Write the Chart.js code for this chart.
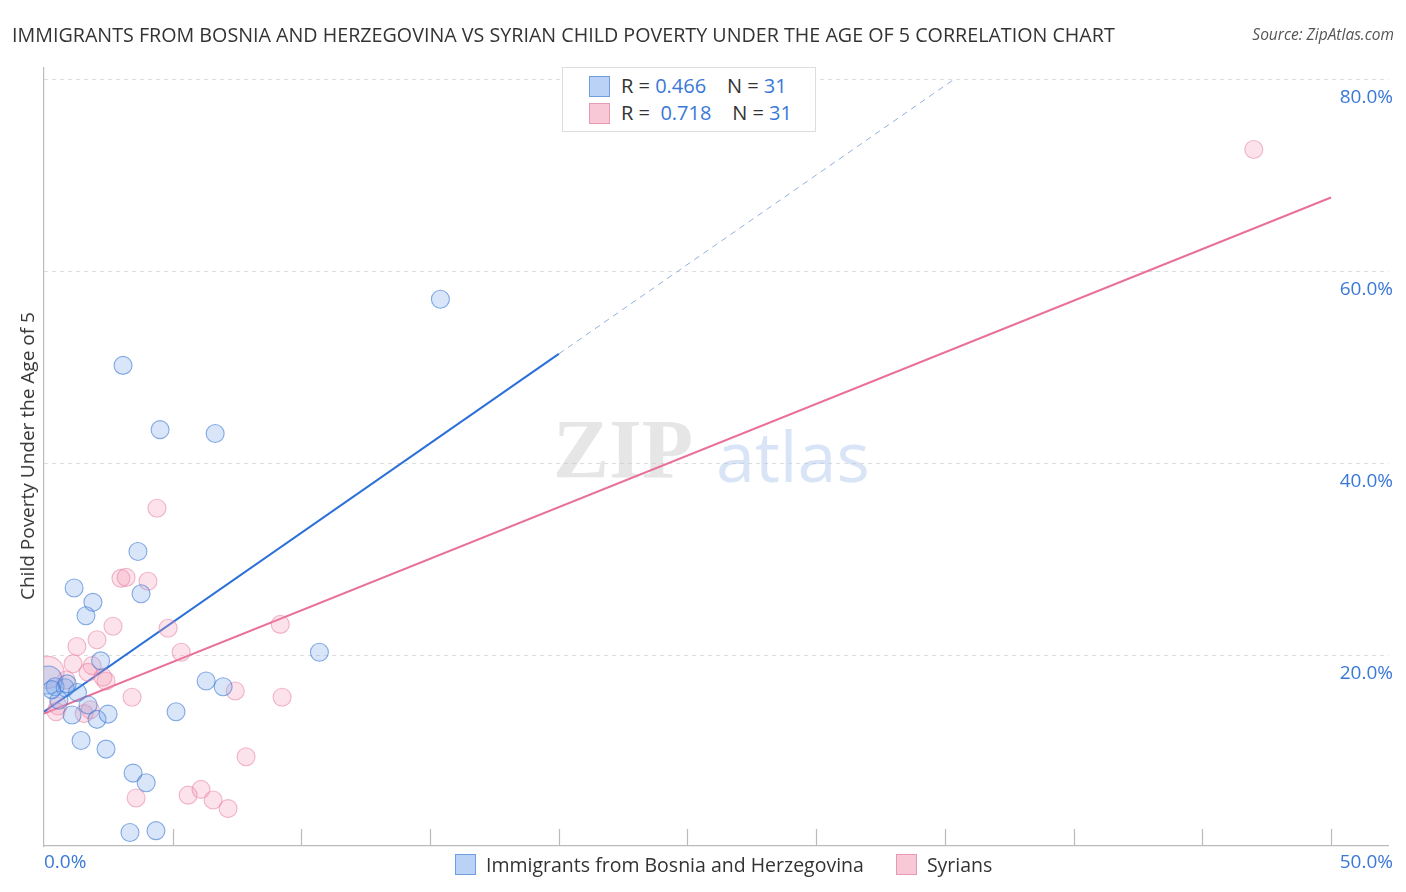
<!DOCTYPE html>
<html><head><meta charset="utf-8">
<script src="https://cdn.jsdelivr.net/npm/chart.js@4"></script>
<style>
body{margin:0;width:1406px;height:892px;background:#fff;font-family:"Open Sans",Roboto,sans-serif;position:relative;overflow:hidden}
#title{position:absolute;left:12px;top:21px;font-size:19.7px;color:#333;white-space:nowrap}
#source{position:absolute;right:12px;top:23px;font-size:15.5px;color:#555;font-style:italic}
#ylab{position:absolute;left:27px;top:456px;transform:translate(-50%,-50%) rotate(-90deg);font-size:19px;color:#333;white-space:nowrap}
#wrap{position:absolute;left:0;top:0;width:1406px;height:892px}
#leg{position:absolute;left:562px;top:67px;width:252px;height:63px;border:1px solid #ddd;background:#fff;font-size:20px;color:#333}
#leg div{position:absolute;left:26px;height:26px;line-height:26px;white-space:nowrap}
#leg span.sw{position:absolute;left:-1px;top:3px;width:19px;height:19px;border:1px solid}
.b{color:#3a78d8}
#bleg{position:absolute;top:851px;left:455px;font-size:19.5px;color:#333;white-space:nowrap}
#bleg span.sw{display:inline-block;width:19px;height:19px;border:1px solid;vertical-align:-3px;margin-right:10px}
</style></head><body>
<div id="wrap"><canvas id="c" width="1406" height="892"></canvas></div>
<div id="title">IMMIGRANTS FROM BOSNIA AND HERZEGOVINA VS SYRIAN CHILD POVERTY UNDER THE AGE OF 5 CORRELATION CHART</div>
<div id="source">Source: ZipAtlas.com</div>
<div id="ylab">Child Poverty Under the Age of 5</div>
<div id="leg">
 <div style="top:5px"><span class="sw" style="left:0;background:#b9d2f5;border-color:#6f9de0"></span><span style="margin-left:32px">R = <span class="b">0.466</span>&nbsp;&nbsp;&nbsp; N = <span class="b">31</span></span></div>
 <div style="top:32px"><span class="sw" style="left:0;background:#f9c8d7;border-color:#e89ab2"></span><span style="margin-left:32px">R = &nbsp;<span class="b">0.718</span>&nbsp;&nbsp;&nbsp; N = <span class="b">31</span></span></div>
</div>
<div id="bleg"><span class="sw" style="background:#b9d2f5;border-color:#6f9de0"></span>Immigrants from Bosnia and Herzegovina<span style="display:inline-block;width:32px"></span><span class="sw" style="background:#f9c8d7;border-color:#e89ab2"></span>Syrians</div>
<script>
// Immigrants from Bosnia and Herzegovina (x %, y %)
var bosniaX = [3.07,4.51,6.65,15.4,3.65,3.77,1.17,1.9,1.63,10.7,2.2,6.3,6.96,0.16,0.43,0.82,1.3,1.71,1.09,2.06,2.49,5.13,1.44,2.41,3.46,3.97,3.34,4.35,0.58,0.9,0.3];
var bosniaY = [50.2,43.5,43.1,57.1,30.8,26.4,27.0,25.5,24.1,20.3,19.4,17.3,16.7,17.4,16.7,16.6,16.1,14.8,13.75,13.3,13.85,14.1,11.1,10.2,7.7,6.7,1.5,1.7,15.3,17.0,16.4];
var bosniaR = [9,9,9,9,9,9,9,9,9,9,9,9,9,14,9,9,9,9,9,9,9,9,9,9,9,9,9,9,9,9,9];
// Syrians
var syrX = [47.0,4.39,2.99,3.19,4.04,2.68,4.82,9.18,2.06,1.28,5.33,1.13,1.87,1.71,2.29,2.41,0.86,0.16,7.43,3.42,9.25,0.54,0.47,1.56,7.85,3.58,5.6,6.1,6.57,7.15,1.8];
var syrY = [72.7,35.3,28.0,28.1,27.7,23.0,22.8,23.2,21.6,20.9,20.3,19.1,18.9,18.2,17.7,17.3,17.4,18.2,16.25,15.6,15.6,14.7,14.1,13.9,9.4,5.1,5.4,6.0,4.9,4.0,14.3];
var syrR = [9,9,9,9,9,9,9,9,9,9,9,9,9,9,9,9,9,16,9,9,9,9,9,9,9,9,9,9,9,9,9];
// trend lines
var bosniaTrend = [{x:0,y:14.1},{x:20.0,y:51.4}];
var bosniaTrendExt = [{x:20.0,y:51.4},{x:35.4,y:80.1}];
var syrTrend = [{x:0,y:13.9},{x:50,y:67.7}];
var yTicks = [20,40,60,80];
var xTicks = [0,5,10,15,20,25,30,35,40,45,50];

function pts(xs, ys){ return xs.map(function(x,i){ return {x:x,y:ys[i]}; }); }

var deco = {
  id:'deco',
  beforeDatasetsDraw: function(chart){
    var c = chart.ctx, a = chart.chartArea, xs = chart.scales.x;
    c.save();
    c.font = 'bold 84px "Liberation Serif",serif';
    c.fillStyle = 'rgba(200,200,200,0.45)';
    c.textBaseline = 'middle';
    c.fillText('ZIP', 553, 456);
    c.font = '70px "Open Sans",sans-serif';
    c.fillStyle = 'rgba(170,195,235,0.45)';
    c.fillText('atlas', 716, 462);
    c.strokeStyle = '#bbb'; c.lineWidth = 1.2;
    xTicks.forEach(function(t){
      if (t === 0) return;
      var px = Math.round(xs.getPixelForValue(t)) + 0.5;
      c.beginPath(); c.moveTo(px, a.bottom); c.lineTo(px, a.bottom - 17); c.stroke();
    });
    c.restore();
  },
  afterDraw: function(chart){
    var c = chart.ctx, ys = chart.scales.y;
    c.save();
    c.font = '19px "Open Sans",sans-serif';
    c.fillStyle = '#3a78d8';
    c.textAlign = 'right'; c.textBaseline = 'middle';
    yTicks.forEach(function(t){ c.fillText(t.toFixed(1) + '%', 1393, ys.getPixelForValue(t) + 18); });
    c.textAlign = 'left'; c.fillText('0.0%', 44, 863);
    c.textAlign = 'right'; c.fillText('50.0%', 1393, 863);
    c.restore();
  }
};

new Chart(document.getElementById('c').getContext('2d'), {
  type: 'scatter',
  data: { datasets: [
    { data: pts(bosniaX, bosniaY), pointRadius: bosniaR, backgroundColor: 'rgba(120,165,235,0.28)', borderColor: 'rgba(60,120,210,0.6)', borderWidth: 1.1 },
    { data: pts(syrX, syrY), pointRadius: syrR, backgroundColor: 'rgba(245,150,180,0.28)', borderColor: 'rgba(230,120,155,0.5)', borderWidth: 1.1 },
    { type:'line', data: bosniaTrend, borderColor: '#2a70d8', borderWidth: 2, pointRadius: 0, fill:false },
    { type:'line', data: bosniaTrendExt, borderColor: '#8fb0e0', borderWidth: 1, borderDash:[6,5], pointRadius: 0, fill:false },
    { type:'line', data: syrTrend, borderColor: '#e8709a', borderWidth: 2, pointRadius: 0, fill:false }
  ]},
  plugins: [deco],
  options: {
    responsive: false, animation: false,
    layout: { padding: { left: 44, right: 9, top: 68, bottom: 38 } },
    plugins: { legend: { display: false }, tooltip: { enabled: false } },
    scales: {
      x: { type:'linear', min: 0, max: 52.25, ticks: { display: false }, grid: { display: false },
           border: { display: true, color: '#bbb', width: 1.2 } },
      y: { type:'linear', position:'left', min: 0.1, max: 81.2, afterBuildTicks: function(s){ s.ticks = yTicks.map(function(v){ return {value:v}; }); },
           ticks: { display: false },
           grid: { color: '#ddd', lineWidth: 1, drawTicks: false },
           border: { display: true, color: '#bbb', width: 1.2, dash: [4,4] } }
    }
  }
});
</script>
</body></html>
